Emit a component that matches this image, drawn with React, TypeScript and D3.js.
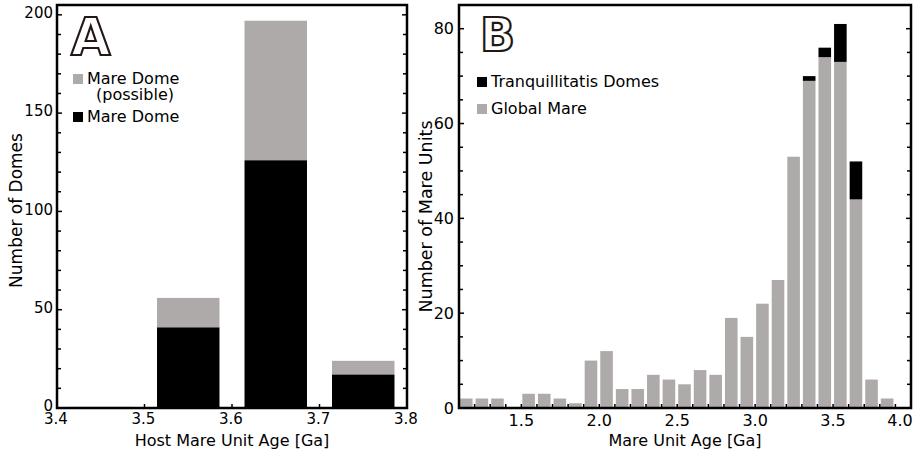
import React from 'react';
import * as d3 from 'd3';

// ---------- Panel A data ----------
const aBinCenters = [3.45, 3.55, 3.65, 3.75];
const aMareDome = [0, 41, 126, 17];
const aMareDomePossible = [0.6, 15, 71, 7];
const aXTicks = [3.4, 3.5, 3.6, 3.7, 3.8];
const aYMajor = [0, 50, 100, 150, 200];
const aYMinor = d3.range(0, 201, 10);

// ---------- Panel B data ----------
const bBinStarts = [1.1, 1.2, 1.3, 1.4, 1.5, 1.6, 1.7, 1.8, 1.9, 2.0, 2.1, 2.2, 2.3, 2.4, 2.5, 2.6, 2.7, 2.8, 2.9, 3.0, 3.1, 3.2, 3.3, 3.4, 3.5, 3.6, 3.7, 3.8];
const bGlobalMare = [2, 2, 2, 0, 3, 3, 2, 1, 10, 12, 4, 4, 7, 6, 5, 8, 7, 19, 15, 22, 27, 53, 69, 74, 73, 44, 6, 2];
const bTranqDomes = [0, 0, 0, 0, 0, 0, 0, 0, 0, 0, 0, 0, 0, 0, 0, 0, 0, 0, 0, 0, 0, 0, 1, 2, 8, 8, 0, 0];
const bXLabels = [1.5, 2.0, 2.5, 3.0, 3.5, 4.0];
const bXTicks = d3.range(12, 40).map((d) => d / 10);
const bYMajor = [0, 20, 40, 60, 80];
const bYMinor = d3.range(0, 86, 5);

const FONT = "'DejaVu Sans', Verdana, sans-serif";
const GRAY = '#aeaaa9';
const BLACK = '#000000';

export default function App() {
  // Panel A scales
  const ax = d3.scaleLinear().domain([3.4, 3.8]).range([57, 407]);
  const ay = d3.scaleLinear().domain([0, 205]).range([408, 5]);
  const aBarW = 0.0714;

  // Panel B scales
  const bx = d3.scaleLinear().domain([1.1, 4.0]).range([459, 911]);
  const by = d3.scaleLinear().domain([0, 85]).range([408, 5]);
  const binW = 0.1;

  const [aL, aR] = ax.range();
  const [aB, aT] = ay.range();
  const [bL, bR] = bx.range();
  const [bB, bT] = by.range();

  return (
    <svg width={914} height={454} style={{ position: 'absolute', left: 0, top: 0, background: '#fff' }} fontFamily={FONT}>
      <rect x={0} y={0} width={914} height={454} fill="#fff" />

      {/* ================= Panel A ================= */}
      {aBinCenters.map((c, i) => {
        const x0 = ax(c - aBarW / 2);
        const w = ax(c + aBarW / 2) - x0;
        const total = aMareDome[i] + aMareDomePossible[i];
        return (
          <g key={'a' + i}>
            <rect x={x0} y={ay(total)} width={w} height={ay(aMareDome[i]) - ay(total)} fill={GRAY} />
            <rect x={x0} y={ay(aMareDome[i])} width={w} height={ay(0) - ay(aMareDome[i])} fill={BLACK} />
          </g>
        );
      })}
      {/* y ticks */}
      {aYMinor.map((v) => {
        const major = aYMajor.includes(v);
        const len = major ? 5 : 4;
        return (
          <g key={'ayt' + v}>
            <line x1={aL} x2={aL + len} y1={ay(v)} y2={ay(v)} stroke="#000" strokeWidth={1.5} />
            <line x1={aR} x2={aR - len} y1={ay(v)} y2={ay(v)} stroke="#000" strokeWidth={1.5} />
          </g>
        );
      })}
      {aYMajor.map((v) => (
        <text key={'ayl' + v} x={aL - 4} y={ay(v) - 2} dy="0.35em" textAnchor="end" fontSize={15}>
          {v}
        </text>
      ))}
      {/* x ticks */}
      {aXTicks.slice(1, -1).map((v) => (
        <line key={'axt' + v} x1={ax(v)} x2={ax(v)} y1={aB} y2={aB - 4} stroke="#000" strokeWidth={1.5} />
      ))}
      {aXTicks.map((v) => (
        <text key={'axl' + v} x={ax(v) - 1} y={aB + 16} textAnchor="middle" fontSize={15}>
          {v.toFixed(1)}
        </text>
      ))}
      <rect x={aL} y={aT} width={aR - aL} height={aB - aT} fill="none" stroke="#000" strokeWidth={2.5} />
      <text x={(aL + aR) / 2} y={446} textAnchor="middle" fontSize={16}>
        Host Mare Unit Age [Ga]
      </text>
      <text transform={`translate(22,${(aT + aB) / 2 + 4}) rotate(-90)`} textAnchor="middle" fontSize={17}>
        Number of Domes
      </text>
      {/* letter A */}
      <text x={71} y={55} fontSize={51} fontWeight="bold" fill="#fff" stroke="#231815" strokeWidth={2.2}>
        A
      </text>
      {/* legend A */}
      <rect x={73} y={74} width={10} height={10} fill={GRAY} />
      <text x={87} y={84} fontSize={16}>Mare Dome</text>
      <text x={96} y={100} fontSize={16}>(possible)</text>
      <rect x={73} y={112} width={10} height={10} fill={BLACK} />
      <text x={87} y={122} fontSize={16}>Mare Dome</text>

      {/* ================= Panel B ================= */}
      {bBinStarts.map((s, i) => {
        const x0 = bx(s) + 1;
        const w = bx(s + binW) - bx(s) - 3;
        const g = bGlobalMare[i];
        const t = bTranqDomes[i];
        return (
          <g key={'b' + i}>
            {g > 0 && <rect x={x0} y={by(g)} width={w} height={by(0) - by(g)} fill={GRAY} />}
            {t > 0 && <rect x={x0} y={by(g + t)} width={w} height={by(g) - by(g + t)} fill={BLACK} />}
          </g>
        );
      })}
      {bYMinor.map((v) => {
        const major = bYMajor.includes(v);
        const len = major ? 5 : 4;
        return (
          <g key={'byt' + v}>
            <line x1={bL} x2={bL + len} y1={by(v)} y2={by(v)} stroke="#000" strokeWidth={1.5} />
            <line x1={bR} x2={bR - len} y1={by(v)} y2={by(v)} stroke="#000" strokeWidth={1.5} />
          </g>
        );
      })}
      {bYMajor.map((v) => (
        <text key={'byl' + v} x={bL - 5} y={by(v)} dy="0.35em" textAnchor="end" fontSize={16}>
          {v}
        </text>
      ))}
      {bXTicks.map((v) => (
        <line key={'bxt' + v} x1={bx(v)} x2={bx(v)} y1={bB} y2={bB - 4} stroke="#000" strokeWidth={1.5} />
      ))}
      {bXLabels.map((v) => {
        const xc = Math.min(bx(v), 900);
        return (
          <text key={'bxl' + v} x={xc} y={bB + 18} textAnchor="middle" fontSize={16}>
            {v.toFixed(1)}
          </text>
        );
      })}
      <rect x={bL} y={bT} width={bR - bL} height={bB - bT} fill="none" stroke="#000" strokeWidth={2.5} />
      <text x={(bL + bR) / 2} y={446} textAnchor="middle" fontSize={16}>
        Mare Unit Age [Ga]
      </text>
      <text transform={`translate(432,${(bT + bB) / 2 + 10}) rotate(-90)`} textAnchor="middle" fontSize={17.5}>
        Number of Mare Units
      </text>
      {/* letter B */}
      <text x={480} y={51} fontSize={46} fontWeight="bold" fill="#fff" stroke="#231815" strokeWidth={2.2}>
        B
      </text>
      {/* legend B */}
      <rect x={477} y={77} width={10} height={10} fill={BLACK} />
      <text x={491} y={87} fontSize={16}>Tranquillitatis Domes</text>
      <rect x={477} y={104} width={10} height={10} fill={GRAY} />
      <text x={491} y={114} fontSize={16}>Global Mare</text>
    </svg>
  );
}
